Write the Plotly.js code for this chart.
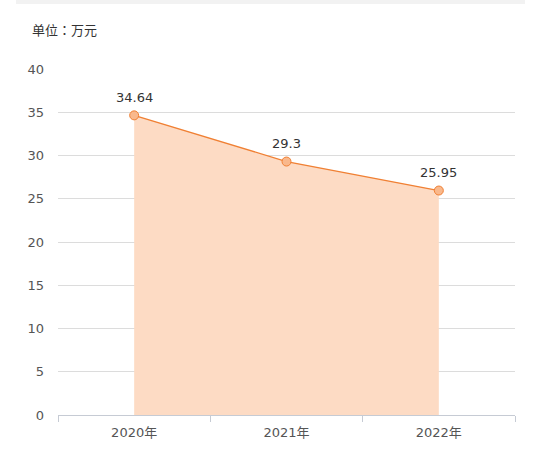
<!DOCTYPE html>
<html>
<head>
<meta charset="utf-8">
<script src="https://cdn.plot.ly/plotly-3.0.1.min.js"></script>
<style>
  html, body { margin: 0; padding: 0; background: #fff; }
  #chart { width: 551px; height: 462px; }
</style>
</head>
<body>
<div id="chart"></div>
<script>
var years = ['2020年', '2021年', '2022年'];
var income = [34.64, 29.3, 25.95];
var labels = ['34.64', '29.3', '25.95'];
var yTicks = [0, 5, 10, 15, 20, 25, 30, 35, 40];

var fontFam = 'DejaVu Sans, Noto Sans CJK SC, sans-serif';

var trace = {
  x: years,
  y: income,
  type: 'scatter',
  mode: 'lines+markers',
  fill: 'tozeroy',
  fillcolor: 'rgb(253,219,196)',
  line: { color: 'rgb(240,128,52)', width: 1.3 },
  marker: { size: 9, color: 'rgb(249,184,140)', line: { color: 'rgb(240,128,52)', width: 1 } },
  hoverinfo: 'none'
};

// value labels above each point
var valueNotes = years.map(function (yr, i) {
  return {
    x: yr, y: income[i], xref: 'x', yref: 'y',
    text: labels[i], showarrow: false,
    yanchor: 'middle', yshift: 18,
    font: { size: 13, color: '#333', family: fontFam }
  };
});

var layout = {
  width: 551,
  height: 462,
  margin: { l: 58, r: 36, t: 69, b: 47 },
  paper_bgcolor: '#fff',
  plot_bgcolor: '#fff',
  showlegend: false,
  font: { family: fontFam, size: 13, color: '#555' },
  xaxis: {
    type: 'category',
    range: [-0.5, 2.5],
    tickson: 'boundaries',
    ticks: 'outside',
    ticklen: 6,
    tickcolor: '#c6cbd4',
    showline: true,
    linecolor: '#c6cbd4',
    showgrid: false,
    zeroline: false,
    fixedrange: true,
    ticklabelstandoff: 5,
    tickfont: { size: 13, color: '#555' }
  },
  yaxis: {
    range: [0, 40],
    tickvals: yTicks,
    showgrid: true,
    gridcolor: '#dcdcdc',
    zeroline: false,
    showline: false,
    ticks: '',
    ticklabelstandoff: 13,
    fixedrange: true,
    tickfont: { size: 13, color: '#555' }
  },
  shapes: [{
    type: 'rect', xref: 'paper', yref: 'paper',
    x0: -0.092, x1: 1.022, y0: 1.188, y1: 1.2,
    fillcolor: '#f2f2f2', line: { width: 0 }
  }],
  annotations: [{
    text: '单位：万元', xref: 'paper', yref: 'paper',
    x: -0.0613, y: 1.113, xanchor: 'left', yanchor: 'middle',
    showarrow: false,
    font: { size: 13, color: '#333', family: 'Noto Sans CJK TC, Noto Sans CJK SC, sans-serif' }
  }].concat(valueNotes)
};

Plotly.newPlot('chart', [trace], layout, { staticPlot: true, displayModeBar: false });
</script>
</body>
</html>
